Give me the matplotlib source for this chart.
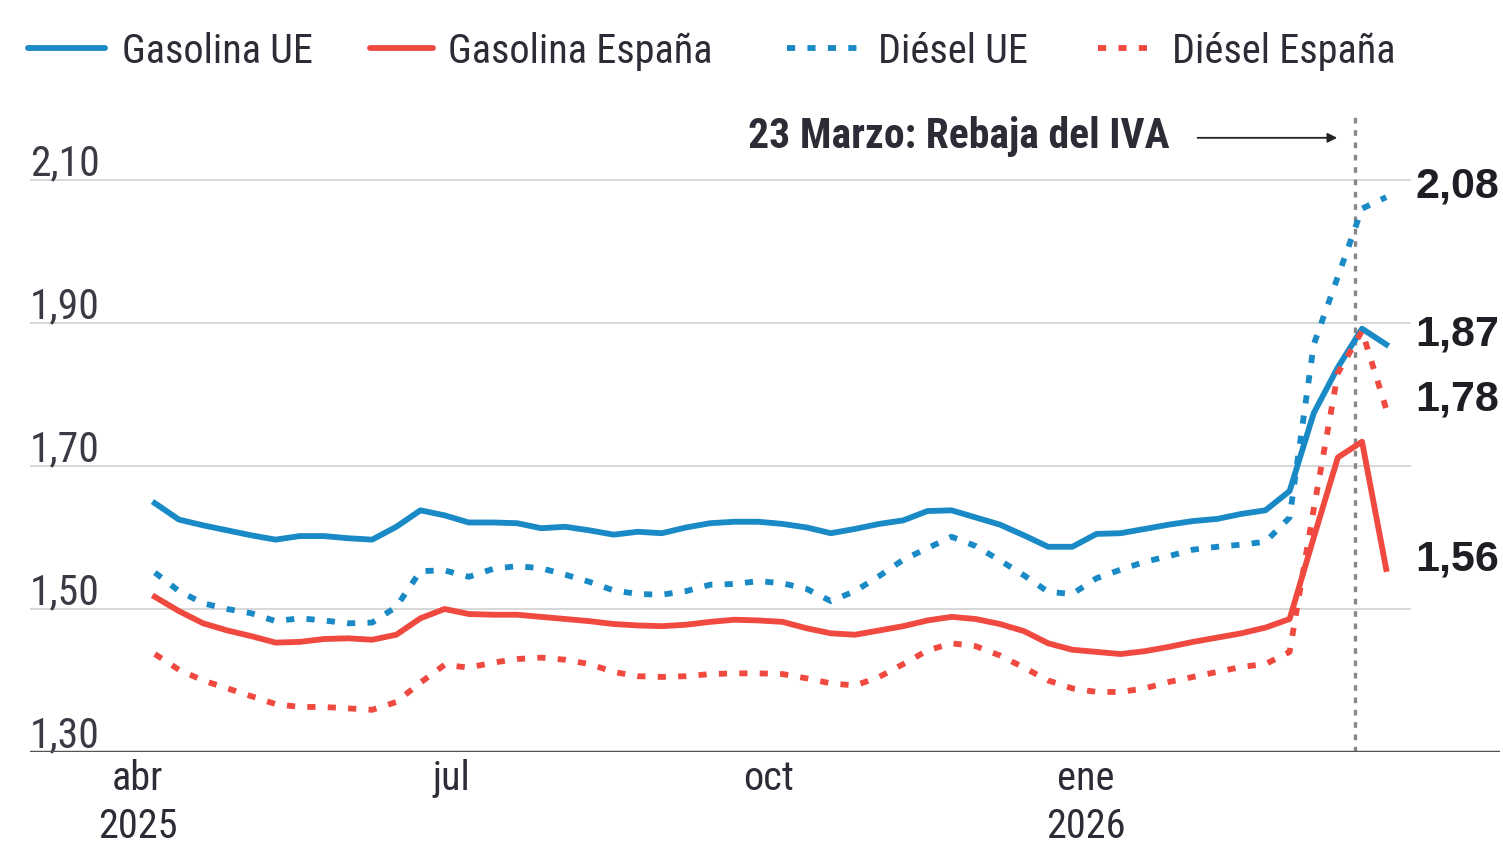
import datetime as dt

import matplotlib
matplotlib.use('Agg')
import matplotlib.pyplot as plt
import matplotlib.dates as mdates
from matplotlib.lines import Line2D
from matplotlib.transforms import offset_copy

# weekly prices (EUR/l), Mondays from 7 April 2025 to 30 March 2026
start = dt.date(2025, 4, 7)
weeks = [start + dt.timedelta(days=7 * i) for i in range(52)]

gasolina_ue = [
    1.648, 1.625, 1.617, 1.610, 1.603, 1.597, 1.602, 1.602, 1.599, 1.597,
    1.615, 1.638, 1.631, 1.621, 1.621, 1.620, 1.613, 1.615, 1.610, 1.604,
    1.608, 1.606, 1.614, 1.620, 1.622, 1.622, 1.619, 1.614, 1.606, 1.612,
    1.619, 1.624, 1.637, 1.638, 1.628, 1.618, 1.603, 1.587, 1.587, 1.605,
    1.606, 1.612, 1.618, 1.623, 1.626, 1.633, 1.638, 1.665, 1.774, 1.838,
    1.892, 1.870,
]
gasolina_es = [
    1.517, 1.497, 1.480, 1.470, 1.462, 1.453, 1.454, 1.458, 1.459, 1.457,
    1.464, 1.487, 1.500, 1.493, 1.492, 1.492, 1.489, 1.486, 1.483, 1.479,
    1.477, 1.476, 1.478, 1.482, 1.485, 1.484, 1.482, 1.473, 1.466, 1.464,
    1.470, 1.476, 1.484, 1.489, 1.486, 1.479, 1.469, 1.452, 1.443, 1.440,
    1.437, 1.441, 1.447, 1.454, 1.460, 1.466, 1.474, 1.486, 1.600, 1.712,
    1.734, 1.556,
]
diesel_ue = [
    1.551, 1.525, 1.508, 1.500, 1.494, 1.483, 1.487, 1.484, 1.480, 1.481,
    1.503, 1.553, 1.554, 1.545, 1.556, 1.560, 1.557, 1.548, 1.538, 1.526,
    1.521, 1.520, 1.525, 1.534, 1.535, 1.539, 1.536, 1.528, 1.511, 1.525,
    1.546, 1.569, 1.585, 1.601, 1.588, 1.568, 1.547, 1.524, 1.521, 1.543,
    1.555, 1.566, 1.574, 1.583, 1.587, 1.590, 1.594, 1.628, 1.870, 1.965,
    2.060, 2.076,
]
diesel_es = [
    1.437, 1.415, 1.400, 1.389, 1.378, 1.367, 1.363, 1.363, 1.361, 1.359,
    1.370, 1.397, 1.422, 1.418, 1.425, 1.430, 1.432, 1.429, 1.423, 1.412,
    1.406, 1.405, 1.406, 1.409, 1.410, 1.410, 1.409, 1.403, 1.396, 1.393,
    1.405, 1.423, 1.442, 1.452, 1.448, 1.435, 1.418, 1.400, 1.389, 1.384,
    1.384, 1.389, 1.398, 1.405, 1.412, 1.419, 1.423, 1.440, 1.640, 1.830,
    1.889, 1.780,
]

end_labels = ['2,08', '1,87', '1,78', '1,56']
end_values = [2.076, 1.869, 1.778, 1.555]

y_ticks = [1.30, 1.50, 1.70, 1.90, 2.10]
y_tick_labels = ['1,30', '1,50', '1,70', '1,90', '2,10']
x_ticks = [dt.date(2025, 4, 2), dt.date(2025, 7, 2), dt.date(2025, 10, 2), dt.date(2026, 1, 2)]
x_months = ['abr', 'jul', 'oct', 'ene']
x_years = ['2025', '', '', '2026']

iva_date = dt.date(2026, 3, 21)

BLUE = '#1a8ac6'
RED = '#f04a40'
TEXT = '#2c2c36'
COND = ['Roboto Condensed', 'DejaVu Sans']

W, H = 1503, 843
fig = plt.figure(figsize=(W / 100, H / 100), dpi=100)
# axes from x=30 to 1500 px, bottom at 752 px (1.30), 715 px per euro
ax = fig.add_axes([30 / W, (H - 752) / H, 1470 / W, 0.90 * 715 / H])
ax.set_ylim(1.30, 2.20)
x0 = mdates.date2num(start)
ax.set_xlim(x0 - 36.2, x0 + 390.0)

for s in ax.spines.values():
    s.set_visible(False)
ax.set_xticks([])
ax.set_yticks([])

grid_end = (1410 - 30) / 1470
for v in y_ticks[1:]:
    ax.axhline(v, xmin=0, xmax=grid_end, color='#d4d4d4', lw=1.3, zorder=1)
ax.axhline(1.30, color='#555555', lw=2.5, zorder=5)

label_tr = offset_copy(ax.get_yaxis_transform(), fig=fig, y=5, units='dots')
for v, lab in zip(y_ticks, y_tick_labels):
    ax.text(0, v, lab, transform=label_tr, ha='left', va='baseline',
            fontsize=30, family=COND, color='#3a3a44')

month_tr = offset_copy(ax.get_xaxis_transform(), fig=fig, y=-38, units='dots')
year_tr = offset_copy(ax.get_xaxis_transform(), fig=fig, y=-86, units='dots')
for d, m, yr in zip(x_ticks, x_months, x_years):
    ax.text(d, 0, m, transform=month_tr, ha='center', va='baseline',
            fontsize=29, family=COND, color=TEXT)
    if yr:
        ax.text(d, 0, yr, transform=year_tr, ha='center', va='baseline',
                fontsize=29, family=COND, color=TEXT)

lw = 4.2
dots = (0, (1.4, 2.1))
ax.plot(weeks, gasolina_ue, color=BLUE, lw=lw, solid_joinstyle='round', zorder=3)
ax.plot(weeks, gasolina_es, color=RED, lw=lw, solid_joinstyle='round', zorder=3)
ax.plot(weeks, diesel_ue, color=BLUE, lw=lw, linestyle=dots, zorder=4)
ax.plot(weeks, diesel_es, color=RED, lw=lw, linestyle=dots, zorder=4)

# 23 March marker
ax.axvline(iva_date, ymin=0, ymax=(2.195 - 1.30) / 0.90, color='#888888', lw=2.4,
           linestyle=(0, (1.7, 2.0)), zorder=2)
ax.annotate('', xy=(x0 + 343.6, 2.159), xytext=(x0 + 301.5, 2.159),
            arrowprops=dict(arrowstyle='-|>', color='#222222', lw=1.3, mutation_scale=14))
ax.text(x0 + 294.3, 2.145, '23 Marzo: Rebaja del IVA', ha='right', va='baseline',
        fontsize=30, fontweight='bold', family=COND, color=TEXT)

for v, lab in zip(end_values, end_labels):
    ax.text(x0 + 365.5, v - 0.001, lab, ha='left', va='baseline', fontsize=31,
            fontweight='bold', family=['Liberation Sans', 'DejaVu Sans'], color='#1e1e24')

# legend drawn in figure pixels
legend_items = [
    (28, 105, 122, 'Gasolina UE', BLUE, '-'),
    (370, 433, 448, 'Gasolina España', RED, '-'),
    (787, 858, 878, 'Diésel UE', BLUE, dots),
    (1098, 1150, 1172, 'Diésel España', RED, dots),
]
for xa, xb, xt, lab, col, ls in legend_items:
    fig.add_artist(Line2D([xa / W, xb / W], [(H - 48) / H] * 2, transform=fig.transFigure,
                          color=col, lw=lw, linestyle=ls, solid_capstyle='round'))
    fig.text(xt / W, (H - 63) / H, lab, ha='left', va='baseline', fontsize=29,
             family=COND, color=TEXT)

fig.savefig('out.png', dpi=100, facecolor='white')
